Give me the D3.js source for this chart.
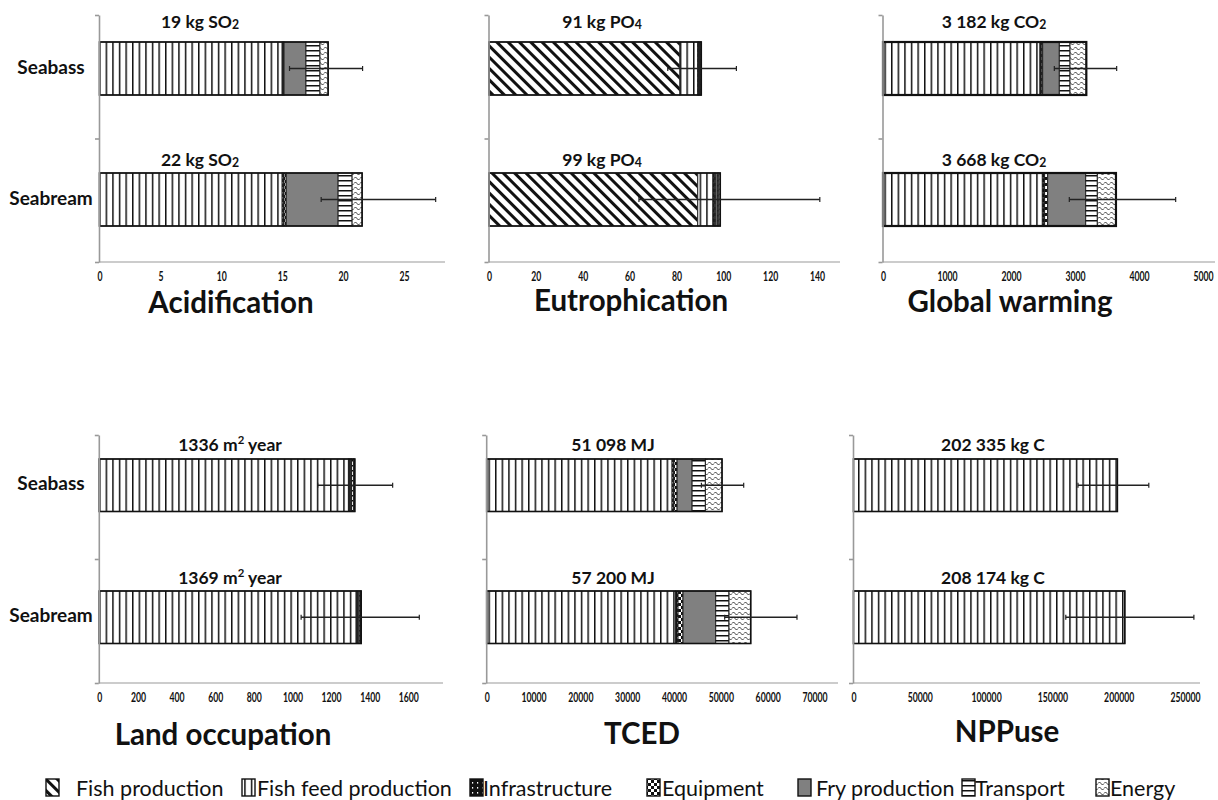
<!DOCTYPE html>
<html><head><meta charset="utf-8">
<script src="https://cdn.jsdelivr.net/npm/d3@7"></script>
<style>
html,body{margin:0;padding:0;background:#fff;}
svg{display:block;}
text{font-family:Lato,"Open Sans",sans-serif;fill:#111;}
</style></head><body>
<svg id="chart" width="1218" height="800"></svg>
<script>
// ---------------- DATA ----------------
const categories = ["Seabass", "Seabream"];
const components = ["Fish production", "Fish feed production", "Infrastructure", "Equipment", "Fry production", "Transport", "Energy"];
const impacts = ["Acidification", "Eutrophication", "Global warming", "Land occupation", "TCED", "NPPuse"];

// contributions per component (same order as components)
const acidificationSeabass  = [0, 15.0, 0.07, 0.08, 1.80, 1.15, 0.67];
const acidificationSeabream = [0, 15.0, 0.15, 0.18, 4.26, 1.15, 0.82];
const eutrophicationSeabass  = [81.5, 7.6, 0.3, 0.3, 0.4, 0.3, 0.2];
const eutrophicationSeabream = [89.1, 6.5, 0.6, 0.6, 0.8, 0.5, 0.6];
const warmingSeabass  = [0, 2453, 20, 22, 260, 167, 255];
const warmingSeabream = [0, 2490, 35, 48, 594, 182, 291];
const landSeabass  = [0, 1290, 5, 5, 6, 10, 7];
const landSeabream = [0, 1330, 5, 5, 6, 6, 4];
const tcedSeabass  = [0, 39590, 400, 670, 3200, 2840, 3550];
const tcedSeabream = [0, 40360, 500, 1060, 6980, 2840, 4640];
const nppSeabass  = [0, 199000, 0, 0, 0, 0, 0];
const nppSeabream = [0, 204600, 0, 0, 0, 0, 0];

// error bars [low, high] for Seabass, Seabream
const acidificationError  = [[15.6, 21.6], [18.2, 27.6]];
const eutrophicationError = [[76.3, 105.6], [64, 141.2]];
const warmingError        = [[2677, 3651], [2911, 4573]];
const landError           = [[1131, 1519], [1045, 1657]];
const tcedError           = [[45850, 54880], [50820, 66260]];
const nppError            = [[169300, 222700], [160100, 256700]];

// total labels (_x = subscript, ^x = superscript)
const acidificationLabels  = ["19 kg SO_2", "22 kg SO_2"];
const eutrophicationLabels = ["91 kg PO_4", "99 kg PO_4"];
const warmingLabels        = ["3 182 kg CO_2", "3 668 kg CO_2"];
const landLabels           = ["1336 m^2 year", "1369 m^2 year"];
const tcedLabels           = ["51 098 MJ", "57 200 MJ"];
const nppLabels            = ["202 335 kg C", "208 174 kg C"];

// tick labels
const acidificationTicks  = [0, 5, 10, 15, 20, 25];
const eutrophicationTicks = [0, 20, 40, 60, 80, 100, 120, 140];
const warmingTicks        = [0, 1000, 2000, 3000, 4000, 5000];
const landTicks           = [0, 200, 400, 600, 800, 1000, 1200, 1400, 1600];
const tcedTicks           = [0, 10000, 20000, 30000, 40000, 50000, 60000, 70000];
const nppTicks            = [0, 50000, 100000, 150000, 200000, 250000];

// ---------------- LAYOUT ----------------
const rowTop = {top: 15, bottom: 262, off: 27, step: 131, bw: 53, labelDy: [-14, -7]};
const rowBot = {top: 435, bottom: 683, off: 24, step: 132, bw: 52.5, labelDy: [-8, -7]};
const layout = [
  {row: rowTop, x0: 99.5,  x1: 404,   xEnd: 445,  labelX: 200,  titleX: 231,  titleY: 313, cats: true},
  {row: rowTop, x0: 489,   x1: 817,   xEnd: 840,  labelX: 602,  titleX: 631,  titleY: 311, cats: false},
  {row: rowTop, x0: 883,   x1: 1203,  xEnd: 1215, labelX: 994,  titleX: 1010, titleY: 312, cats: false},
  {row: rowBot, x0: 99.3,  x1: 408.3, xEnd: 443,  labelX: 230,  titleX: 223,  titleY: 745, cats: true},
  {row: rowBot, x0: 486.7, x1: 814.5, xEnd: 838,  labelX: 613,  titleX: 642,  titleY: 744, cats: false},
  {row: rowBot, x0: 853.5, x1: 1185,  xEnd: 1200, labelX: 993,  titleX: 1007, titleY: 742, cats: false}
];

const panelData = [
  {values: [acidificationSeabass, acidificationSeabream], err: acidificationError, labels: acidificationLabels, ticks: acidificationTicks},
  {values: [eutrophicationSeabass, eutrophicationSeabream], err: eutrophicationError, labels: eutrophicationLabels, ticks: eutrophicationTicks},
  {values: [warmingSeabass, warmingSeabream], err: warmingError, labels: warmingLabels, ticks: warmingTicks},
  {values: [landSeabass, landSeabream], err: landError, labels: landLabels, ticks: landTicks},
  {values: [tcedSeabass, tcedSeabream], err: tcedError, labels: tcedLabels, ticks: tcedTicks},
  {values: [nppSeabass, nppSeabream], err: nppError, labels: nppLabels, ticks: nppTicks}
];

const svg = d3.select("#chart");
const defs = svg.append("defs");

// ---------------- PATTERNS ----------------
function pat(id, w, h, transform) {
  const p = defs.append("pattern").attr("id", id).attr("patternUnits", "userSpaceOnUse")
    .attr("width", w).attr("height", h);
  if (transform) p.attr("patternTransform", transform);
  return p;
}
let p;
p = pat("pat0", 8, 8, "rotate(-45)");
p.append("rect").attr("width", 8).attr("height", 8).attr("fill", "#fff");
p.append("rect").attr("width", 3).attr("height", 8).attr("fill", "#111");

p = pat("pat1", 6.6, 10);
p.append("rect").attr("width", 6.6).attr("height", 10).attr("fill", "#fff");
p.append("rect").attr("width", 1.5).attr("height", 10).attr("fill", "#111");

p = pat("pat2", 5, 5);
p.append("rect").attr("width", 5).attr("height", 5).attr("fill", "#111");
p.append("rect").attr("x", 2).attr("y", 2).attr("width", 1.2).attr("height", 1.6).attr("fill", "#fff");

p = pat("pat3", 6, 6);
p.append("rect").attr("width", 6).attr("height", 6).attr("fill", "#111");
p.append("rect").attr("width", 3).attr("height", 3).attr("fill", "#fff");
p.append("rect").attr("x", 3).attr("y", 3).attr("width", 3).attr("height", 3).attr("fill", "#fff");

p = pat("pat4", 4, 4);
p.append("rect").attr("width", 4).attr("height", 4).attr("fill", "#808080");

p = pat("pat5", 10, 5);
p.append("rect").attr("width", 10).attr("height", 5).attr("fill", "#fff");
p.append("rect").attr("width", 10).attr("height", 1.5).attr("fill", "#111");

p = pat("pat6", 6, 5);
p.append("rect").attr("width", 6).attr("height", 5).attr("fill", "#fff");
p.append("path").attr("d", "M0,3.5 Q1.5,0.5 3,3.5 T6,3.5").attr("fill", "none").attr("stroke", "#333").attr("stroke-width", 1);

const fillFor = i => `url(#pat${i})`;

function addRichText(sel, str, baseSize) {
  const parts = str.split(/([_^]\d)/);
  let pending = 0;
  parts.forEach(part => {
    if (!part) return;
    if (part[0] === "_") {
      sel.append("tspan").attr("font-size", baseSize * 0.7).attr("dy", 1 + pending).text(part[1]);
      pending = -1;
    } else if (part[0] === "^") {
      sel.append("tspan").attr("font-size", baseSize * 0.65).attr("dy", -7 + pending).text(part[1]);
      pending = 7;
    } else {
      const t = sel.append("tspan").text(part);
      if (pending) t.attr("dy", pending);
      pending = 0;
    }
  });
}

// ---------------- PANELS ----------------
panelData.forEach((pd, k) => {
  const L = layout[k];
  const R = L.row;
  const g = svg.append("g");
  const ticks = pd.ticks;
  const x = d3.scaleLinear().domain([0, ticks[ticks.length - 1]]).range([L.x0, L.x1]);
  const y = d3.scaleBand().domain(categories)
    .range([R.top + R.off, R.top + R.off + R.step + R.bw])
    .paddingInner(1 - R.bw / R.step).paddingOuter(0);

  const rows = categories.map((c, ci) => {
    const o = {cat: c};
    components.forEach((comp, j) => o[comp] = pd.values[ci][j]);
    return o;
  });
  const series = d3.stack().keys(components)(rows);

  // x axis line (light)
  g.append("line").attr("x1", L.x0 - 0.5).attr("x2", L.xEnd).attr("y1", R.bottom).attr("y2", R.bottom)
    .attr("stroke", "#bbb").attr("stroke-width", 1.3);

  // bars
  series.forEach((s, j) => {
    g.selectAll(null).data(s.filter(d => d[1] - d[0] > 0)).enter().append("rect")
      .attr("x", d => x(d[0]))
      .attr("y", d => y(d.data.cat))
      .attr("width", d => x(d[1]) - x(d[0]))
      .attr("height", y.bandwidth())
      .attr("fill", fillFor(j))
      .attr("stroke", "#222").attr("stroke-width", 1);
  });
  // outlines
  g.selectAll(null).data(rows).enter().append("rect")
    .attr("x", x(0))
    .attr("y", d => y(d.cat))
    .attr("width", d => x(d3.sum(components, c => d[c])) - x(0))
    .attr("height", y.bandwidth())
    .attr("fill", "none").attr("stroke", "#111").attr("stroke-width", k === 2 ? 2.2 : 1.6);

  // error bars
  const eb = g.selectAll(null).data(categories).enter().append("g")
    .attr("transform", (c) => `translate(0,${y(c) + y.bandwidth() / 2})`);
  eb.append("line").attr("x1", (c, i) => x(pd.err[i][0])).attr("x2", (c, i) => x(pd.err[i][1]))
    .attr("stroke", "#222").attr("stroke-width", 1.4);
  eb.append("line").attr("x1", (c, i) => x(pd.err[i][0])).attr("x2", (c, i) => x(pd.err[i][0]))
    .attr("y1", -2.5).attr("y2", 2.5).attr("stroke", "#222").attr("stroke-width", 1.2);
  eb.append("line").attr("x1", (c, i) => x(pd.err[i][1])).attr("x2", (c, i) => x(pd.err[i][1]))
    .attr("y1", -2.5).attr("y2", 2.5).attr("stroke", "#222").attr("stroke-width", 1.2);

  // value labels
  categories.forEach((c, i) => {
    const t = g.append("text").attr("x", L.labelX).attr("y", y(c) + R.labelDy[i])
      .attr("text-anchor", "middle").attr("font-weight", "bold").attr("font-size", 17.5);
    addRichText(t, pd.labels[i], 17.5);
  });

  // y axis
  const yAx = d3.scaleLinear().domain([0, 2]).range([R.bottom, R.top]);
  const ya = g.append("g").attr("transform", `translate(${L.x0 - 0.5},0)`)
    .call(d3.axisLeft(yAx).tickValues([0, 1, 2]).tickFormat("").tickSize(4).tickSizeOuter(0));
  ya.selectAll("path,line").attr("stroke", "#999").attr("stroke-width", 1.6);

  // x axis tick labels
  const xa = g.append("g").attr("transform", `translate(0,${R.bottom})`)
    .call(d3.axisBottom(x).tickValues(ticks).tickSize(0).tickPadding(9).tickFormat(d3.format("d")));
  xa.select(".domain").remove();
  xa.selectAll("text")
    .attr("font-family", "'Liberation Sans Narrow','DejaVu Sans Condensed','Liberation Sans',sans-serif")
    .attr("font-weight", "bold").attr("font-size", 14).attr("fill", "#1a1a1a")
    .attr("x", 0)
    .attr("transform", "scale(0.62,1)");

  // category labels
  if (L.cats) {
    g.selectAll(null).data(categories).enter().append("text")
      .attr("x", 51).attr("y", c => y(c) + y.bandwidth() / 2 + 5)
      .attr("text-anchor", "middle").attr("font-weight", "bold").attr("font-size", 19)
      .text(c => c);
  }

  // title
  g.append("text").attr("x", L.titleX).attr("y", L.titleY).attr("text-anchor", "middle")
    .attr("font-weight", "bold").attr("font-size", 29.5).text(impacts[k]);
});

// ---------------- LEGEND ----------------
const legendPos = [
  {sx: 46, tx: 76}, {sx: 242, tx: 257}, {sx: 470, tx: 483}, {sx: 647, tx: 662},
  {sx: 798, tx: 816}, {sx: 962, tx: 975}, {sx: 1096, tx: 1110}
];
const lg = svg.append("g");
components.forEach((c, i) => {
  lg.append("rect").attr("x", legendPos[i].sx).attr("y", 779).attr("width", 13).attr("height", 17)
    .attr("fill", fillFor(i)).attr("stroke", "#111").attr("stroke-width", 1.4);
  lg.append("text").attr("x", legendPos[i].tx).attr("y", 796).attr("font-size", 21.5).text(c);
});
</script>
</body></html>
